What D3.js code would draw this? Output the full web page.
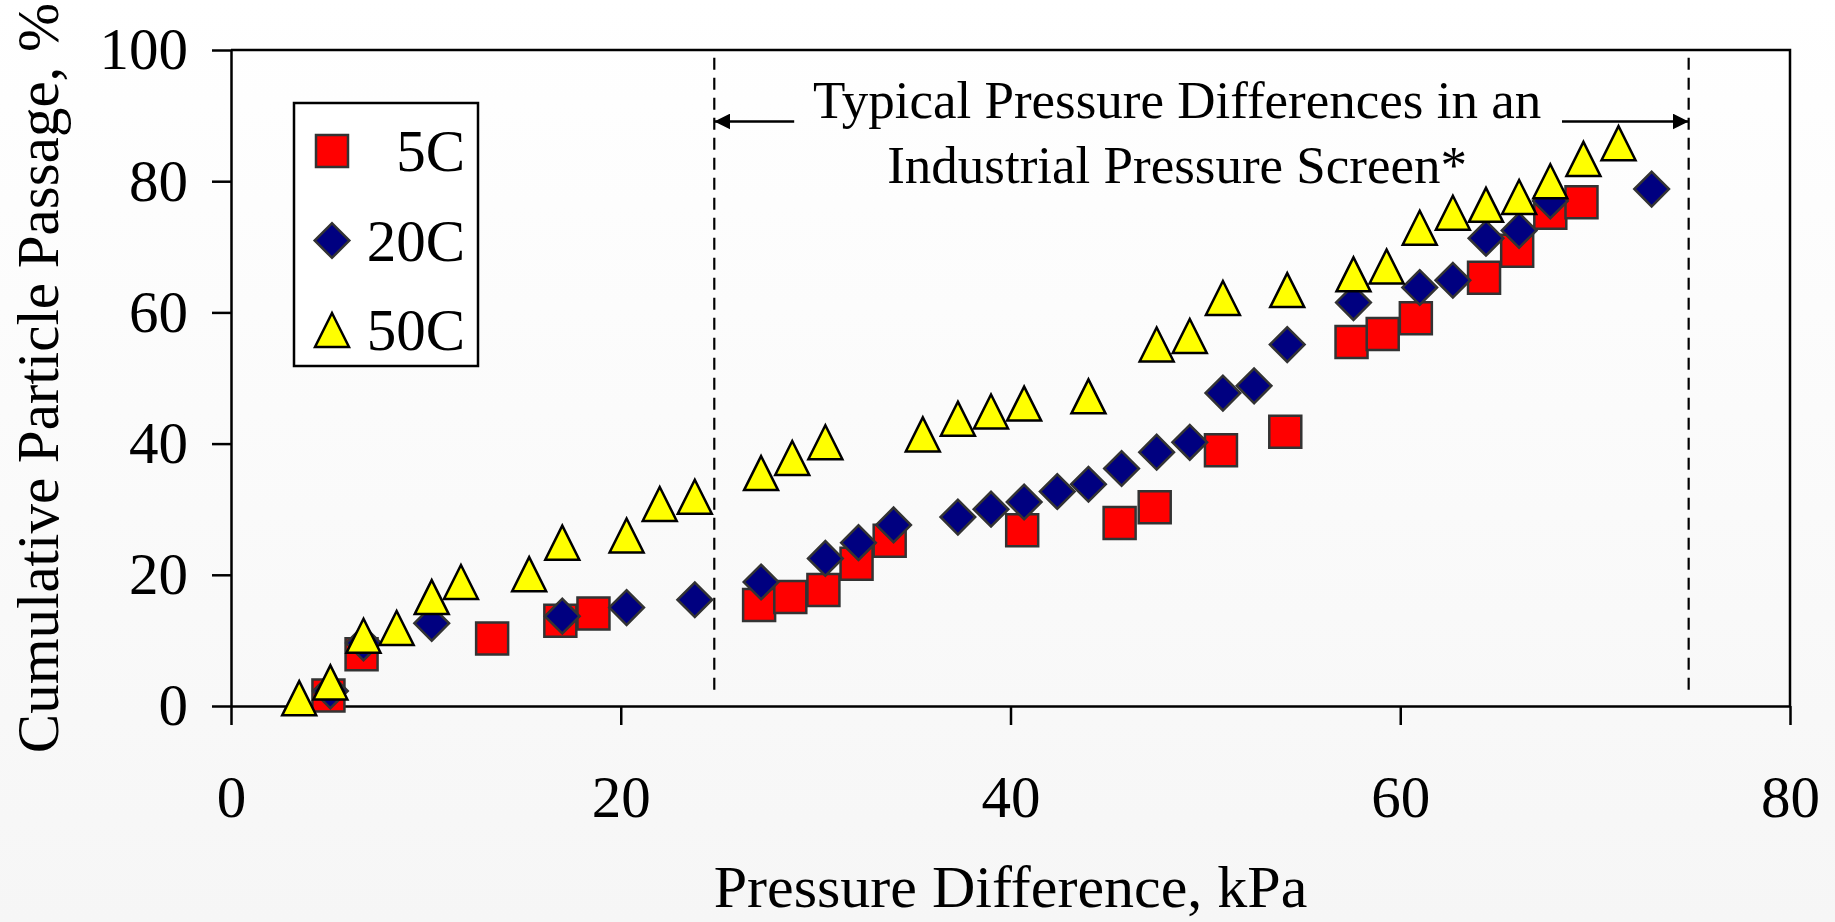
<!DOCTYPE html>
<html>
<head>
<meta charset="utf-8">
<script src="https://cdn.jsdelivr.net/npm/d3@7"></script>
<style>
    html, body { margin: 0; padding: 0; overflow: hidden; }
    body { background: linear-gradient(#ffffff, #f6f6f6); }
    svg { display: block; font-family: "Liberation Serif", "Times New Roman", serif; }
</style>
</head>
<body>
<svg id="chart"></svg>
<script>
    // data
    var seriesNames = ["5C", "20C", "50C"];

    var pressure5C = [5.0, 6.7, 13.4, 16.9, 18.6, 27.1, 28.7, 30.4, 32.1, 33.8, 40.6, 45.6, 47.4, 50.8, 54.1, 57.5, 59.1, 60.8, 64.3, 66.0, 67.7, 69.3];
    var passage5C = [1.6, 7.9, 10.3, 13.0, 14.1, 15.4, 16.6, 17.7, 21.7, 25.2, 26.8, 27.9, 30.3, 39.0, 41.8, 55.5, 56.7, 59.1, 65.3, 69.4, 75.2, 76.8];

    var pressure20C = [5.1, 6.8, 10.3, 17.0, 20.3, 23.8, 27.2, 30.5, 32.2, 34.0, 37.3, 39.0, 40.7, 42.4, 44.0, 45.7, 47.5, 49.2, 50.9, 52.5, 54.2, 57.6, 61.0, 62.7, 64.4, 66.1, 67.7, 72.9];
    var passage20C = [2.3, 9.6, 12.6, 13.7, 15.0, 16.2, 18.9, 22.5, 24.9, 27.6, 28.8, 30.0, 31.1, 32.7, 33.8, 36.2, 38.7, 40.2, 47.7, 48.8, 55.1, 61.5, 63.8, 64.9, 71.3, 72.5, 77.0, 78.8];

    var pressure50C = [3.5, 5.1, 6.8, 8.5, 10.3, 11.8, 15.3, 17.0, 20.3, 22.0, 23.8, 27.2, 28.8, 30.5, 35.5, 37.3, 39.0, 40.7, 44.0, 47.5, 49.2, 50.9, 54.2, 57.6, 59.3, 61.0, 62.7, 64.4, 66.1, 67.7, 69.4, 71.2];
    var passage50C = [1.2, 3.6, 10.7, 11.9, 16.6, 18.9, 20.1, 24.9, 26.0, 30.8, 31.9, 35.5, 37.8, 40.2, 41.4, 43.8, 44.9, 46.1, 47.2, 55.1, 56.4, 62.2, 63.4, 65.8, 67.0, 72.9, 75.2, 76.4, 77.6, 80.0, 83.4, 85.8];

    var xTicks = [0, 20, 40, 60, 80];
    var yTicks = [0, 20, 40, 60, 80, 100];

    // typical range band in the annotation (kPa)
    var typicalRange = [24.8, 74.8];
    var annotationLines = ["Typical Pressure Differences in an", "Industrial Pressure Screen*"];

    var iWidth = 1835;
    var iHeight = 922;
    var margin = { left: 231, top: 50, right: 45, bottom: 216 };

    var svg = d3.select("#chart")
        .attr("width", iWidth)
        .attr("height", iHeight);

    var xScale = d3.scaleLinear()
        .domain([0, 80])
        .range([margin.left, iWidth - margin.right]);

    var yScale = d3.scaleLinear()
        .domain([0, 100])
        .range([iHeight - margin.bottom, margin.top]);

    var fontSize = 59;

    // frame: top and right lines
    svg.append("path")
        .attr("d", `M${xScale(0)},${yScale(100)}H${xScale(80)}V${yScale(0)}`)
        .attr("fill", "none")
        .attr("stroke", "#000")
        .attr("stroke-width", 2.5);

    var xAxis = svg.append("g")
        .attr("transform", `translate(0, ${yScale(0)})`)
        .call(d3.axisBottom(xScale).tickValues(xTicks).tickSize(19).tickSizeOuter(0).tickPadding(50));

    var yAxis = svg.append("g")
        .attr("transform", `translate(${xScale(0)}, 0)`)
        .call(d3.axisLeft(yScale).tickValues(yTicks).tickSize(19).tickSizeOuter(0).tickPadding(24));

    [xAxis, yAxis].forEach(function(g) {
        g.select(".domain").attr("stroke-width", 2.5);
        g.selectAll(".tick line").attr("stroke-width", 2.5);
        g.selectAll(".tick text")
            .attr("font-family", "Liberation Serif, Times New Roman, serif")
            .attr("font-size", fontSize)
            .attr("fill", "#000");
    });

    // axis titles
    svg.append("text")
        .attr("x", (xScale(0) + xScale(80)) / 2)
        .attr("y", 907)
        .attr("text-anchor", "middle")
        .attr("font-size", 60)
        .text("Pressure Difference, kPa");

    svg.append("text")
        .attr("transform", `translate(58, ${(yScale(0) + yScale(100)) / 2}) rotate(-90)`)
        .attr("text-anchor", "middle")
        .attr("font-size", 59)
        .text("Cumulative Particle Passage, %");

    // typical range annotation
    var yTop = 98.8, yBottom = 1.3, yArrow = 89.1;
    typicalRange.forEach(function(v) {
        svg.append("line")
            .attr("x1", xScale(v)).attr("x2", xScale(v))
            .attr("y1", yScale(yTop)).attr("y2", yScale(yBottom))
            .attr("stroke", "#000")
            .attr("stroke-width", 2.2)
            .attr("stroke-dasharray", "12,8");
    });

    var defs = svg.append("defs");
    defs.append("marker")
        .attr("id", "arrow")
        .attr("viewBox", "0 0 16 16")
        .attr("refX", 16).attr("refY", 8)
        .attr("markerWidth", 16).attr("markerHeight", 16)
        .attr("markerUnits", "userSpaceOnUse")
        .attr("orient", "auto")
        .append("path")
        .attr("d", "M0,0L16,8L0,16Z")
        .attr("fill", "#000");

    var arrowStarts = [28.9, 68.3];
    arrowStarts.forEach(function(v, i) {
        svg.append("line")
            .attr("x1", xScale(v)).attr("x2", xScale(typicalRange[i]))
            .attr("y1", yScale(yArrow)).attr("y2", yScale(yArrow))
            .attr("stroke", "#000")
            .attr("stroke-width", 2.5)
            .attr("marker-end", "url(#arrow)");
    });

    var note = svg.append("text")
        .attr("text-anchor", "middle")
        .attr("font-size", 53);
    note.selectAll("tspan")
        .data(annotationLines)
        .join("tspan")
        .attr("x", xScale(48.55))
        .attr("y", (d, i) => 118 + i * 65)
        .text((d) => d);

    // marker shapes
    var triangleType = {
        draw: function(context, size) {
            var r = Math.sqrt(size) / 2;
            context.moveTo(0, -r);
            context.lineTo(r, r);
            context.lineTo(-r, r);
            context.closePath();
        }
    };

    var seriesStyle = [
        { symbol: d3.symbol(d3.symbolSquare, 32 * 32), rotate: 0, fill: "#ff0000", stroke: "#333333" },
        { symbol: d3.symbol(d3.symbolSquare, 24.5 * 24.5), rotate: 45, fill: "#000080", stroke: "#333333" },
        { symbol: d3.symbol(triangleType, 34 * 34), rotate: 0, fill: "#ffff00", stroke: "#000000" }
    ];

    var seriesData = [
        d3.zip(pressure5C, passage5C),
        d3.zip(pressure20C, passage20C),
        d3.zip(pressure50C, passage50C)
    ];

    seriesData.forEach(function(points, i) {
        var st = seriesStyle[i];
        svg.append("g")
            .selectAll("path")
            .data(points)
            .join("path")
            .attr("d", st.symbol())
            .attr("transform", (d) => `translate(${xScale(d[0])}, ${yScale(d[1])}) rotate(${st.rotate})`)
            .attr("fill", st.fill)
            .attr("stroke", st.stroke)
            .attr("stroke-width", 2.5)
            .attr("stroke-linejoin", "miter");
    });

    // legend
    var legend = svg.append("g");
    legend.append("rect")
        .attr("x", 294).attr("y", 103)
        .attr("width", 184).attr("height", 263)
        .attr("fill", "#fff")
        .attr("stroke", "#000")
        .attr("stroke-width", 2.5);

    var legendRows = legend.selectAll("g.row")
        .data(seriesNames)
        .join("g")
        .attr("class", "row")
        .attr("transform", (d, i) => `translate(0, ${151 + i * 89.5})`);

    legendRows.append("path")
        .attr("d", (d, i) => seriesStyle[i].symbol())
        .attr("transform", (d, i) => `translate(332, 0) rotate(${seriesStyle[i].rotate})`)
        .attr("fill", (d, i) => seriesStyle[i].fill)
        .attr("stroke", (d, i) => seriesStyle[i].stroke)
        .attr("stroke-width", 2.5);

    legendRows.append("text")
        .attr("x", 465)
        .attr("y", 20)
        .attr("text-anchor", "end")
        .attr("font-size", fontSize)
        .text((d) => d);
</script>
</body>
</html>
